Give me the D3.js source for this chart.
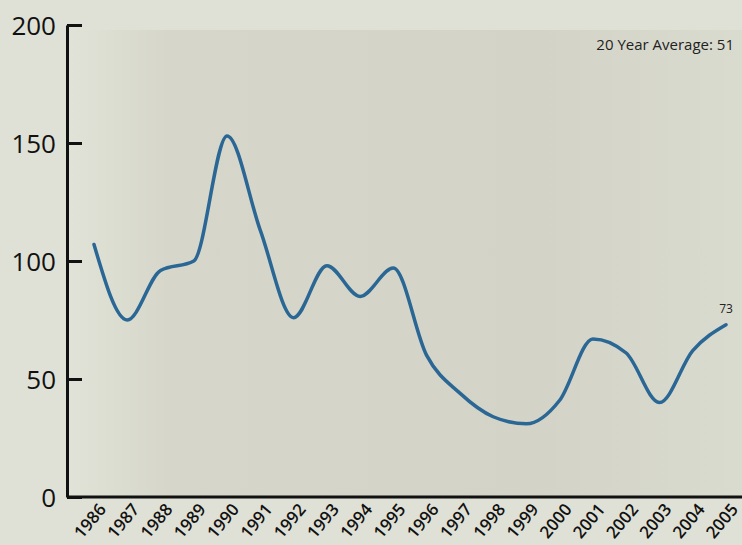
<!DOCTYPE html>
<html>
<head>
<meta charset="utf-8">
<script src="https://cdn.jsdelivr.net/npm/d3@7"></script>
<style>
  body { margin: 0; background: #dfe0d5; }
  svg { display: block; }
  .axis path, .axis line { stroke: #111; }
  .axis text { fill: #111; font-family: 'Open Sans', sans-serif; }
</style>
</head>
<body>
<svg id="chart" width="742" height="545"></svg>
<script>
const years = ['1986', '1987', '1988', '1989', '1990', '1991', '1992', '1993', '1994', '1995',
  '1996', '1997', '1998', '1999', '2000', '2001', '2002', '2003', '2004', '2005']
const values = [107, 75, 96, 100, 153, 113, 76, 98, 85, 97,
  60, 44, 34, 31, 41, 67, 61, 40, 62, 73]
const yTicks = [0, 50, 100, 150, 200]
const averageLabel = '20 Year Average: 51'

const svg = d3.select('#chart')

// Background wash, lighter at the edges
let defs = svg.append('defs')
let grad = defs.append('linearGradient')
    .attr('id', 'bg')
    .attr('x1', 0).attr('x2', 1).attr('y1', 0).attr('y2', 0)
grad.append('stop').attr('offset', '0%').attr('stop-color', '#e2e3d8')
grad.append('stop').attr('offset', '15%').attr('stop-color', '#d6d7ca')
grad.append('stop').attr('offset', '70%').attr('stop-color', '#d3d4c7')
grad.append('stop').attr('offset', '100%').attr('stop-color', '#dadbcf')

svg.append('rect')
  .attr('width', 742).attr('height', 545)
  .attr('fill', '#e0e1d6')
svg.append('rect')
  .attr('x', 67).attr('y', 30)
  .attr('width', 675).attr('height', 467)
  .attr('fill', 'url(#bg)')

const x = d3.scalePoint().domain(years).range([94, 726])
const y = d3.scaleLinear().domain([0, 200]).range([497, 25])

// Y axis, ticks pointing into the plot
let yAxis = d3.axisLeft(y)
    .tickValues(yTicks)
    .tickSize(-15)
    .tickPadding(11)
    .tickSizeOuter(0)
svg.append('g')
  .attr('class', 'axis axis-y')
  .attr('transform', 'translate(67,0)')
  .call(yAxis)
  .call(g => g.select('.domain').attr('stroke-width', 3))
  .call(g => g.selectAll('line').attr('stroke-width', 3))
  .call(g => g.selectAll('text').attr('font-size', 26).attr('dy', '0.36em'))

// X axis with rotated year labels
let xAxis = d3.axisBottom(x).tickSize(0).tickPadding(0)
let xg = svg.append('g')
    .attr('class', 'axis axis-x')
    .attr('transform', 'translate(0,497)')
    .call(xAxis)
xg.select('.domain')
  .attr('d', `M67,0H742`)
  .attr('stroke-width', 3)
xg.selectAll('text')
  .attr('font-size', 17)
  .attr('font-weight', 600)
  .attr('text-anchor', 'end')
  .attr('dy', '0.35em')
  .attr('y', 0)
  .attr('transform', 'translate(8,9) rotate(-50)')

// Line
let line = d3.line()
    .x((d, i) => x(years[i]))
    .y(d => y(d))
    .curve(d3.curveMonotoneX)

svg.append('path')
  .datum(values)
  .attr('fill', 'none')
  .attr('stroke', '#2b6795')
  .attr('stroke-width', 3.5)
  .attr('stroke-linecap', 'round')
  .attr('d', line)

// Last value label
let last = values.length - 1
svg.append('text')
  .attr('x', x(years[last]))
  .attr('y', y(values[last]) - 12)
  .attr('text-anchor', 'middle')
  .attr('font-family', 'Open Sans, sans-serif')
  .attr('font-size', 12)
  .attr('fill', '#222')
  .text(values[last])

svg.append('text')
  .attr('x', 734)
  .attr('y', 50)
  .attr('text-anchor', 'end')
  .attr('font-family', 'Open Sans, sans-serif')
  .attr('font-size', 15)
  .attr('fill', '#222')
  .text(averageLabel)
</script>
</body>
</html>
